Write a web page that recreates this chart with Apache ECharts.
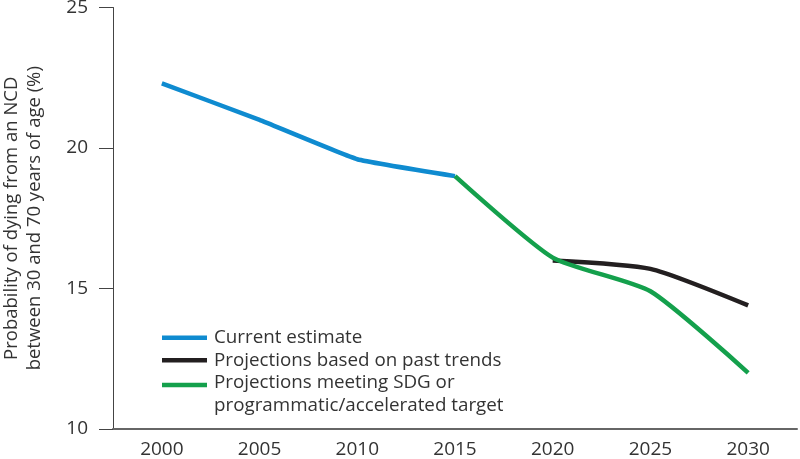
<!DOCTYPE html>
<html>
<head>
<meta charset="utf-8">
<script src="https://cdn.jsdelivr.net/npm/echarts@6/dist/echarts.min.js"></script>
<style>html,body{margin:0;padding:0;background:#fff}#c{width:800px;height:459px}</style>
</head>
<body>
<div id="c"></div>
<script>
const years = ['2000', '2005', '2010', '2015', '2020', '2025', '2030'];
const currentEstimate = [22.3, 21.0, 19.6, 19.0, null, null, null];
const pastTrends = [null, null, null, null, 16.0, 15.7, 14.4];
const sdgTarget = [null, null, null, 19.0, 16.1, 14.9, 12.0];
const yTicks = [10, 15, 20, 25];

const names = ['Current estimate', 'Projections based on past trends',
  'Projections meeting SDG or\nprogrammatic/accelerated target'];
const FONT = '"Open Sans", sans-serif';
const LH = 22.5;
const iconMid = 'path://M0,0L0.01,0M0,9H45V13.5H0ZM0,22.5L0.01,22.5';
const iconTop = 'path://M0,0H45V4.5H0ZM0,22.5L0.01,22.5';
const chart = echarts.init(document.getElementById('c'), null, {renderer: 'canvas'});
chart.setOption({
  animation: false,
  grid: {left: 113, right: 3, top: 7.5, bottom: 30, containLabel: false, outerBoundsMode: 'none'},
  legend: {
    orient: 'vertical', left: 157, top: 321.5,
    itemWidth: 45, itemHeight: LH, itemGap: 0, symbolKeepAspect: false,
    textStyle: {fontFamily: FONT, fontSize: 18.8, color: '#333', lineHeight: LH, padding: [0, 0, 0, 2]},
    data: [
      {name: names[0], icon: iconMid},
      {name: names[1], icon: iconMid},
      {name: names[2], icon: iconTop}
    ]
  },
  xAxis: {
    type: 'category', data: years, boundaryGap: true,
    axisLine: {lineStyle: {color: '#666', width: 2}},
    axisTick: {show: false},
    axisLabel: {fontFamily: FONT, fontSize: 19, color: '#333', margin: 11}
  },
  yAxis: {
    type: 'value', min: yTicks[0], max: yTicks[yTicks.length - 1], interval: 5,
    name: 'Probability of dying from an NCD\nbetween 30 and 70 years of age (%)',
    nameLocation: 'middle', nameGap: 67,
    nameTextStyle: {fontFamily: FONT, fontSize: 18.5, color: '#333', lineHeight: 23},
    axisLine: {show: true, lineStyle: {color: '#444', width: 1}},
    axisTick: {show: true, length: 14, lineStyle: {color: '#444', width: 1}},
    splitLine: {show: false},
    axisLabel: {fontFamily: FONT, fontSize: 19, color: '#333', margin: 25}
  },
  series: [
    {name: names[0], type: 'line', data: currentEstimate, symbol: 'none', smooth: 0.1,
     lineStyle: {color: '#0f8bd0', width: 4.5}, itemStyle: {color: '#0f8bd0'}},
    {name: names[1], type: 'line', data: pastTrends, symbol: 'none', smooth: 0.2,
     lineStyle: {color: '#231f20', width: 4.5}, itemStyle: {color: '#231f20'}},
    {name: names[2], type: 'line', data: sdgTarget, symbol: 'none', smooth: 0.2,
     lineStyle: {color: '#14a04c', width: 4.5}, itemStyle: {color: '#14a04c'}}
  ]
});
</script>
</body>
</html>
